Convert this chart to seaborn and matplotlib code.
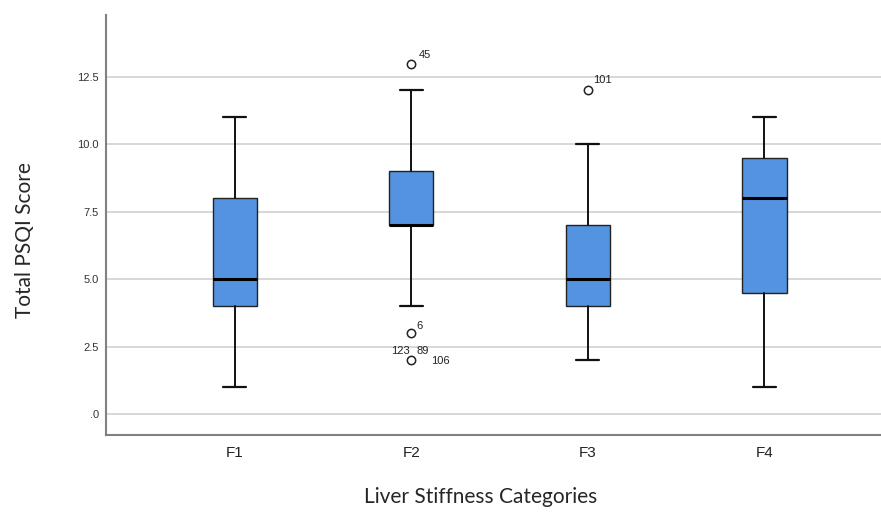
import matplotlib
matplotlib.use('Agg')
import matplotlib.pyplot as plt
import seaborn as sns

# box statistics (SPSS style boxplot)
categories = ['F1', 'F2', 'F3', 'F4']
whisker_low = [1, 4, 2, 1]
q1 = [4, 7, 4, 4.5]
median = [5, 7, 5, 8]
q3 = [8, 9, 7, 9.5]
whisker_high = [11, 12, 10, 11]
outliers = [[], [13, 3, 2], [12], []]

# case labels attached to outliers: (category index, value, label)
outlier_labels = [
    (1, 13, '45'),
    (1, 3, '6'),
    (1, 2, '123'),
    (1, 2, '89'),
    (1, 2, '106'),
    (2, 12, '101'),
]
yticks = [0, 2.5, 5.0, 7.5, 10.0, 12.5]
ytick_labels = ['.0', '2.5', '5.0', '7.5', '10.0', '12.5']

sns.set_theme(style='white')
plt.rcParams['font.family'] = ['Liberation Sans', 'DejaVu Sans']

fig = plt.figure(figsize=(8.81, 5.12), dpi=100)
ax = fig.add_axes([0.1203, 0.1504, 0.8797, 0.8203])

stats = []
for i, cat in enumerate(categories):
    stats.append({
        'label': cat, 'whislo': whisker_low[i], 'q1': q1[i], 'med': median[i],
        'q3': q3[i], 'whishi': whisker_high[i], 'fliers': outliers[i],
    })

ax.bxp(
    stats, positions=range(len(categories)), widths=0.25, capwidths=0.13,
    patch_artist=True,
    boxprops=dict(facecolor='#5493E0', edgecolor='#222222', linewidth=1.0),
    medianprops=dict(color='black', linewidth=2.2),
    whiskerprops=dict(color='#111111', linewidth=1.4),
    capprops=dict(color='#111111', linewidth=1.6),
    flierprops=dict(marker='o', markersize=6, markerfacecolor='white',
                    markeredgecolor='#222222', markeredgewidth=1.1),
    zorder=3,
)

offsets = {
    '45': (0.04, 0.3, 'left'), '6': (0.03, 0.25, 'left'),
    '123': (-0.01, 0.35, 'right'), '89': (0.03, 0.35, 'left'),
    '106': (0.11, -0.05, 'left'), '101': (0.03, 0.4, 'left'),
}
for ci, val, lab in outlier_labels:
    dx, dy, ha = offsets[lab]
    ax.text(ci + dx, val + dy, lab, ha=ha, va='center', fontsize=8, color='#222222')

ax.set_xlim(-0.73, 3.66)
ax.set_ylim(-0.78, 14.8)
ax.set_yticks(yticks)
ax.set_yticklabels(ytick_labels)
ax.set_xticks(range(len(categories)))
ax.set_xticklabels(categories)
ax.tick_params(axis='y', length=0, labelsize=8, colors='#333333', pad=5)
ax.tick_params(axis='x', length=0, labelsize=11, colors='#222222', pad=8)
ax.yaxis.grid(True, color='#d4d4d4', linewidth=1.3)
ax.set_axisbelow(True)
for side in ['top', 'right']:
    ax.spines[side].set_visible(False)
for side in ['left', 'bottom']:
    ax.spines[side].set_color('#808080')
    ax.spines[side].set_linewidth(1.5)

label_font = ['Lato', 'DejaVu Sans']
ax.set_ylabel('Total PSQI Score', fontsize=15, family=label_font, va='center')
ax.set_xlabel('Liver Stiffness Categories', fontsize=15, family=label_font, va='center')
ax.yaxis.set_label_coords(-0.105, 0.464)
ax.xaxis.set_label_coords(0.483, -0.148)

fig.savefig('out.png', dpi=100)
